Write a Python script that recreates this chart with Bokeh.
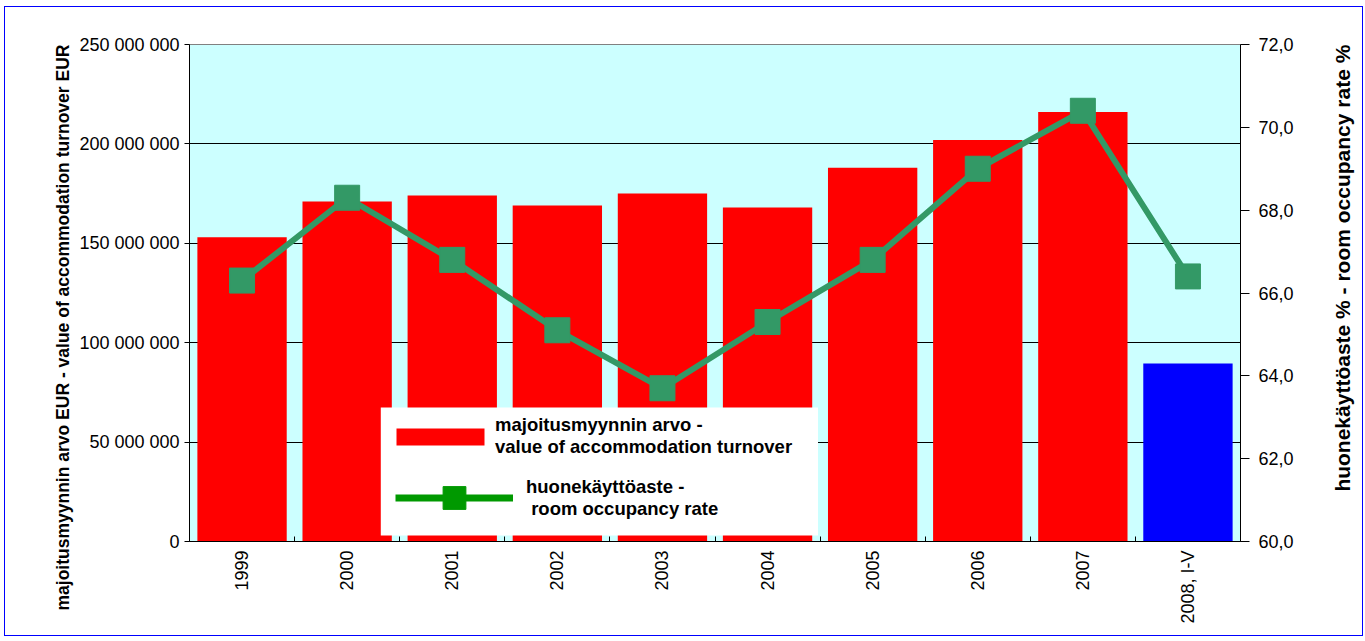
import math
from bokeh.plotting import figure
from bokeh.layouts import row
from bokeh.models import (Range1d, LinearAxis, FixedTicker, CustomJSTickFormatter,
                          Legend, LegendItem, ColumnDataSource, Label, BoxAnnotation, Title)
from bokeh.embed import file_html
from bokeh.resources import INLINE

# ---------------- data ----------------
categories = ["1999", "2000", "2001", "2002", "2003", "2004", "2005", "2006", "2007", "2008, I-V"]
turnover = [153e6, 171e6, 174e6, 169e6, 175e6, 168e6, 188e6, 202e6, 216e6, 89.5e6]
occupancy = [66.3, 68.3, 66.8, 65.1, 63.7, 65.3, 66.8, 69.0, 70.4, 66.4]
turnover_ticks = [0, 50e6, 100e6, 150e6, 200e6, 250e6]
occupancy_ticks = [60, 62, 64, 66, 68, 70, 72]

label_turnover = "majoitusmyynnin arvo -\nvalue of accommodation turnover"
label_occupancy = "huonekäyttöaste -\n room occupancy rate"
left_title = "majoitusmyynnin arvo EUR - value of accommodation turnover EUR"
right_title = "huonekäyttöaste % - room occupancy rate %"

# ---------------- styles ----------------
FONT = "Liberation Sans"
bar_colors = ["#FF0000"] * (len(categories) - 1) + ["#0000FF"]
line_color = "#339966"
H = 628

centers = [i + 0.5 for i in range(len(categories))]
src = ColumnDataSource(dict(x=centers, top=turnover, occ=occupancy, color=bar_colors))

p = figure(width=1316, height=H,
           x_range=Range1d(0, len(categories)), y_range=Range1d(turnover_ticks[0], turnover_ticks[-1]),
           output_backend="svg", toolbar_location=None,
           min_border_left=184, min_border_right=81, min_border_top=37, min_border_bottom=94)
p.background_fill_color = "#CCFFFF"
p.border_fill_color = "white"
p.outline_line_color = "#808080"
p.outline_line_width = 1
p.extra_y_ranges = {"occ": Range1d(occupancy_ticks[0], occupancy_ticks[-1])}

# bars
p.vbar(x="x", top="top", width=0.85, fill_color="color", line_color=None, source=src)
# line + markers
p.line(x="x", y="occ", line_color=line_color, line_width=6, y_range_name="occ", source=src)
p.scatter(x="x", y="occ", marker="square", size=25, fill_color=line_color, line_color=line_color,
          y_range_name="occ", source=src)

# grid
p.xgrid.visible = False
p.ygrid.ticker = FixedTicker(ticks=turnover_ticks)
p.ygrid.grid_line_color = "black"
p.ygrid.grid_line_width = 1

# x axis
xa = p.xaxis[0]
xa.ticker = FixedTicker(ticks=centers, minor_ticks=list(range(len(categories) + 1)))
xa.formatter = CustomJSTickFormatter(args=dict(cats=categories), code="return cats[Math.floor(tick)];")
xa.major_tick_line_color = None
xa.major_tick_in = 0
xa.major_tick_out = 0
xa.minor_tick_in = 5
xa.minor_tick_out = 0
xa.minor_tick_line_color = "black"
xa.axis_line_color = "black"
xa.major_label_orientation = math.pi / 2
xa.major_label_standoff = 9
xa.major_label_text_font = FONT
xa.major_label_text_font_size = "18px"
xa.major_label_text_color = "black"

# left axis
ya = p.yaxis[0]
ya.ticker = FixedTicker(ticks=turnover_ticks)
ya.formatter = CustomJSTickFormatter(code="return Math.round(tick).toString().replace(/\\B(?=(\\d{3})+(?!\\d))/g, ' ');")
ya.minor_tick_line_color = None
ya.major_tick_in = 0
ya.major_tick_out = 5
ya.major_tick_line_color = "black"
ya.axis_line_color = "black"
ya.major_label_standoff = 5
ya.major_label_text_font = FONT
ya.major_label_text_font_size = "18px"
ya.major_label_text_color = "black"

# right axis
ra = LinearAxis(y_range_name="occ", ticker=FixedTicker(ticks=occupancy_ticks),
                formatter=CustomJSTickFormatter(code="return tick.toFixed(1).replace('.', ',');"))
ra.minor_tick_line_color = None
ra.major_tick_in = 0
ra.major_tick_out = 9
ra.major_tick_line_color = "black"
ra.axis_line_color = "black"
ra.major_label_standoff = 9
ra.major_label_text_font = FONT
ra.major_label_text_font_size = "18px"
ra.major_label_text_color = "black"
p.add_layout(ra, "right")

# left axis title (reads bottom-to-top), as a side title starting below the frame bottom
p.add_layout(Title(text=left_title, align="left", offset=-69, standoff=8, text_font=FONT,
                   text_font_size="17.5px", text_font_style="bold", text_color="black"), "left")

# legend background box
p.add_layout(BoxAnnotation(left=1.82, right=5.98, bottom=3.0e6, top=67.4e6,
                           fill_color="white", fill_alpha=1.0, line_color=None))

# legend proxies (hidden renderers, legend uses its own colours)
proxy_bar = p.vbar(x="x", top="top", width=0.85, fill_color="#FF0000", line_color=None,
                   source=src, visible=False)
proxy_line = p.line(x="x", y="occ", line_color="#009900", line_width=7, y_range_name="occ",
                    source=src, visible=False)
proxy_mark = p.scatter(x="x", y="occ", marker="square", size=23, fill_color="#009900",
                       line_color="#009900", y_range_name="occ", source=src, visible=False)

common = dict(background_fill_alpha=0.0, border_line_color=None,
              label_text_font=FONT, label_text_font_size="18.5px", label_text_font_style="bold",
              label_text_color="black", label_text_line_height=1.1, margin=0, spacing=0, padding=0)
leg1 = Legend(items=[LegendItem(label=label_turnover, renderers=[proxy_bar], index=0)],
              location=(196, 83), glyph_width=110, glyph_height=21, label_standoff=0, **common)
leg2 = Legend(items=[LegendItem(label=label_occupancy, renderers=[proxy_line, proxy_mark], index=0)],
              location=(206, 15), glyph_width=118, glyph_height=57, label_standoff=13, **common)
p.add_layout(leg1)
p.add_layout(leg2)

# narrow strip on the right holding the right-hand axis title (reads bottom-to-top);
# its frame lines up with the main plot's frame, so it shares the occupancy scale
p2 = figure(width=41, height=H, x_range=Range1d(0, 1),
            y_range=Range1d(occupancy_ticks[0], occupancy_ticks[-1]),
            output_backend="svg", toolbar_location=None, x_axis_type=None, y_axis_type=None,
            min_border=0, min_border_left=0, min_border_right=0, min_border_top=37, min_border_bottom=94)
p2.outline_line_color = None
p2.background_fill_color = "white"
p2.border_fill_color = "white"
p2.xgrid.visible = False
p2.ygrid.visible = False
p2.add_layout(Label(x=0.5, y=66.6, text=right_title, angle=math.pi / 2,
                    text_align="center", text_baseline="middle", text_font=FONT,
                    text_font_size="21px", text_font_style="bold", text_color="black"))

layout = row(p, p2, styles={"border": "1px solid #0000FF", "margin-left": "4px", "margin-top": "6px"})

open("out.html", "w").write(file_html(layout, INLINE))
